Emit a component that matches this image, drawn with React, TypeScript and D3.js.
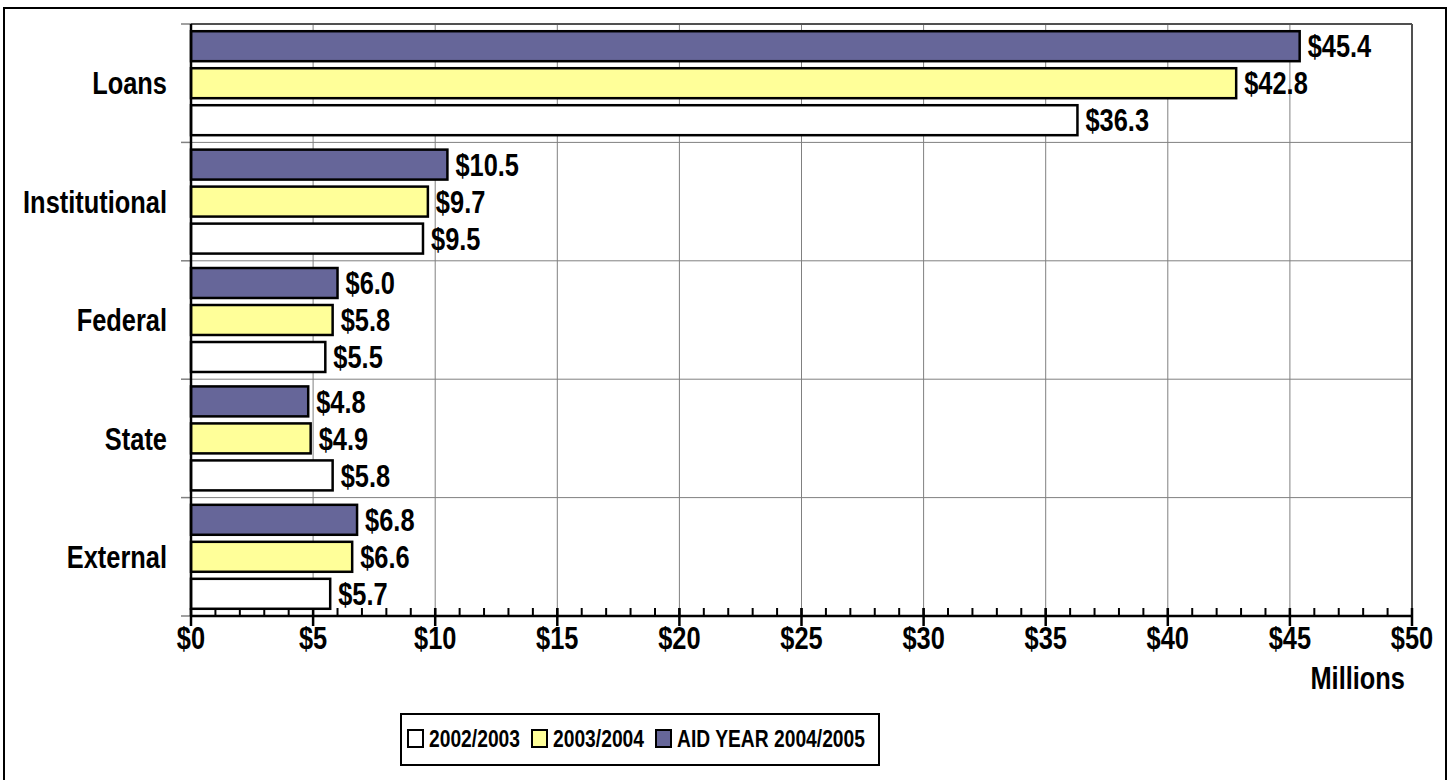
import { scaleBand, scaleLinear, range } from 'd3'

const categories = ['Loans', 'Institutional', 'Federal', 'State', 'External']
const seriesNames = ['AID YEAR 2004/2005', '2003/2004', '2002/2003']
const aid2004 = [45.4, 10.5, 6.0, 4.8, 6.8]
const aid2003 = [42.8, 9.7, 5.8, 4.9, 6.6]
const aid2002 = [36.3, 9.5, 5.5, 5.8, 5.7]
const xTicks = [0, 5, 10, 15, 20, 25, 30, 35, 40, 45, 50]
const legendOrder = ['2002/2003', '2003/2004', 'AID YEAR 2004/2005']

const colors: Record<string, string> = {
  'AID YEAR 2004/2005': '#666699',
  '2003/2004': '#ffff99',
  '2002/2003': '#ffffff',
}

// no Arial Narrow here, so squeeze Liberation Sans bold horizontally
const font = "'Liberation Sans', Arial, sans-serif"
const narrow = 0.82

function Label({
  x,
  y,
  size,
  anchor = 'start',
  dy = '0',
  children,
}: {
  x: number
  y: number
  size: number
  anchor?: 'start' | 'middle' | 'end'
  dy?: string
  children: React.ReactNode
}) {
  return (
    <text
      transform={`translate(${x},${y}) scale(${narrow},1)`}
      dy={dy}
      textAnchor={anchor}
      fontSize={size}
      fill="#000"
    >
      {children}
    </text>
  )
}

export default function App() {
  const width = 1450
  const height = 780
  const left = 191
  const right = 1412
  const top = 24
  const bottom = 616

  const xScale = scaleLinear().domain([0, 50]).range([left, right])
  const yScale = scaleBand<string>().domain(categories).range([top, bottom])
  const inner = scaleBand<string>()
    .domain(seriesNames)
    .range([0, yScale.bandwidth()])
    .paddingInner(0.19)
    .paddingOuter(0.195)

  const valuesFor: Record<string, number[]> = {
    'AID YEAR 2004/2005': aid2004,
    '2003/2004': aid2003,
    '2002/2003': aid2002,
  }

  const bandEdges = categories.map((c) => yScale(c) ?? 0).concat([bottom])
  const minor = range(0, 51, 1)

  const legendX = [408, 532, 656]

  return (
    <svg
      width={width}
      height={height}
      viewBox={`0 0 ${width} ${height}`}
      style={{ position: 'absolute', left: 0, top: 0, background: '#fff' }}
      fontFamily={font}
      fontWeight="bold"
    >
      <rect x="4" y="8" width="1442" height="790" fill="#fff" stroke="#000" strokeWidth="2" />

      {/* vertical gridlines */}
      {xTicks.slice(1, -1).map((t) => (
        <line key={t} x1={xScale(t)} x2={xScale(t)} y1={top} y2={bottom} stroke="#808080" strokeWidth="1" />
      ))}
      {/* horizontal gridlines */}
      {bandEdges.slice(1, -1).map((y, i) => (
        <line key={i} x1={left} x2={right} y1={y} y2={y} stroke="#808080" strokeWidth="1" />
      ))}
      {/* plot frame top/right */}
      <line x1={left} x2={right} y1={top} y2={top} stroke="#505050" strokeWidth="2" />
      <line x1={right} x2={right} y1={top} y2={bottom} stroke="#505050" strokeWidth="2" />

      {/* category ticks */}
      {bandEdges.map((y, i) => (
        <line key={i} x1={181} x2={left} y1={y} y2={y} stroke="#808080" strokeWidth="1.5" />
      ))}

      {/* bars */}
      {categories.map((cat, ci) =>
        seriesNames.map((s) => {
          const v = valuesFor[s][ci]
          const y = (yScale(cat) ?? 0) + (inner(s) ?? 0)
          const h = inner.bandwidth()
          return (
            <g key={cat + s}>
              <rect
                x={xScale(0)}
                y={y}
                width={xScale(v) - xScale(0)}
                height={h}
                fill={colors[s]}
                stroke="#000"
                strokeWidth="2.5"
              />
              <Label x={xScale(v) + 8} y={y + h / 2} dy="0.36em" size={31}>
                ${v.toFixed(1)}
              </Label>
            </g>
          )
        }),
      )}

      {/* axes */}
      <line x1={left} x2={left} y1={top} y2={bottom} stroke="#000" strokeWidth="2.5" />
      <line x1={left} x2={right} y1={bottom} y2={bottom} stroke="#000" strokeWidth="2.5" />
      {minor.map((t) => (
        <line key={t} x1={xScale(t)} x2={xScale(t)} y1={bottom - 8} y2={bottom} stroke="#000" strokeWidth="2" />
      ))}
      {xTicks.map((t) => (
        <g key={t}>
          <line x1={xScale(t)} x2={xScale(t)} y1={bottom - 8} y2={bottom + 10} stroke="#000" strokeWidth="2.5" />
          <Label x={xScale(t)} y={649} anchor="middle" size={31}>
            ${t}
          </Label>
        </g>
      ))}

      {/* category labels */}
      {categories.map((c) => (
        <Label
          key={c}
          x={167}
          y={(yScale(c) ?? 0) + yScale.bandwidth() / 2}
          dy="0.36em"
          anchor="end"
          size={31}
        >
          {c}
        </Label>
      ))}

      <Label x={1405} y={689} anchor="end" size={31}>
        Millions
      </Label>

      {/* legend */}
      <rect x="401" y="714" width="478" height="51" fill="#fff" stroke="#000" strokeWidth="2" />
      {legendOrder.map((s, i) => (
        <g key={s}>
          <rect x={legendX[i]} y={730} width={15} height={17} fill={colors[s]} stroke="#000" strokeWidth="2" />
          <Label x={legendX[i] + 21} y={739} dy="0.36em" size={23.5}>
            {s}
          </Label>
        </g>
      ))}
    </svg>
  )
}
